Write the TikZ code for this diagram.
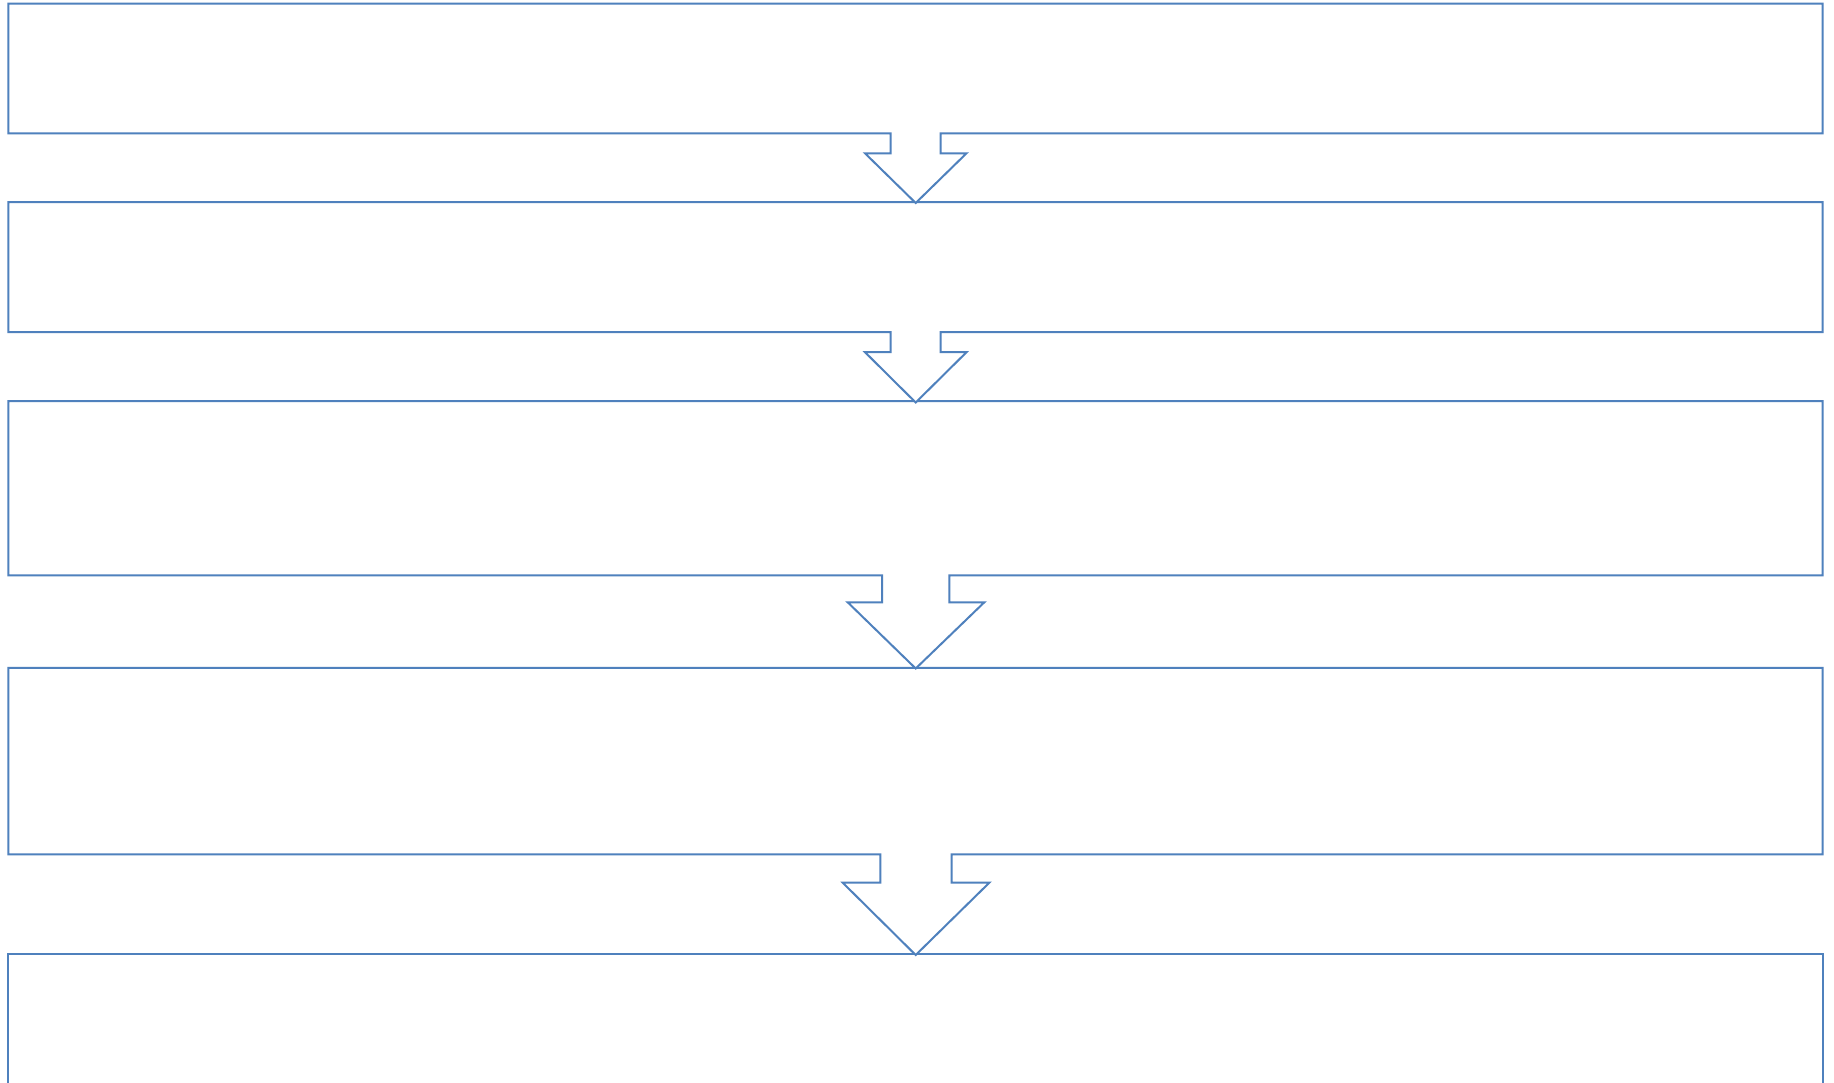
\documentclass[tikz,border=0pt]{standalone}
\usepackage{tikz}
\definecolor{boxblue}{HTML}{4F81BD}
\tikzset{calloutline/.style={draw=boxblue,line width=2pt,line join=miter,fill=white}}
\begin{document}
\begin{tikzpicture}[x=1pt,y=-1pt]
\useasboundingbox (0,0) rectangle (1834,1082);
\clip (0,0) rectangle (1834,1082);
\fill[white] (0,0) rectangle (1834,1082);
% box 5 (open at bottom)
\draw[calloutline] (8.3,1090) -- (8.3,953.5) -- (1822.5,953.5) -- (1822.5,1090);
% box 4 with arrow
\draw[calloutline] (8.3,667.8) -- (1822.5,667.8) -- (1822.5,854.3) -- (951.7,854.3) -- (951.7,882.7) -- (989.3,882.7) -- (915.7,955) -- (842.7,882.7) -- (880.3,882.7) -- (880.3,854.3) -- (8.3,854.3) -- cycle;
% box 3 with arrow
\draw[calloutline] (8.3,401.2) -- (1822.5,401.2) -- (1822.5,575.3) -- (949.3,575.3) -- (949.3,602.3) -- (984.3,602.3) -- (915.7,668.5) -- (847.7,602.3) -- (882,602.3) -- (882,575.3) -- (8.3,575.3) -- cycle;
% box 2 with arrow
\draw[calloutline] (8.3,202) -- (1822.5,202) -- (1822.5,332.2) -- (940.5,332.2) -- (940.5,352.2) -- (966.5,352.2) -- (915.7,402.5) -- (865,352.2) -- (890.7,352.2) -- (890.7,332.2) -- (8.3,332.2) -- cycle;
% box 1 with arrow
\draw[calloutline] (8.3,3.5) -- (1822.5,3.5) -- (1822.5,133.3) -- (940.5,133.3) -- (940.5,153.3) -- (966.5,153.3) -- (915.7,203) -- (865,153.3) -- (890.7,153.3) -- (890.7,133.3) -- (8.3,133.3) -- cycle;
\end{tikzpicture}
\end{document}
